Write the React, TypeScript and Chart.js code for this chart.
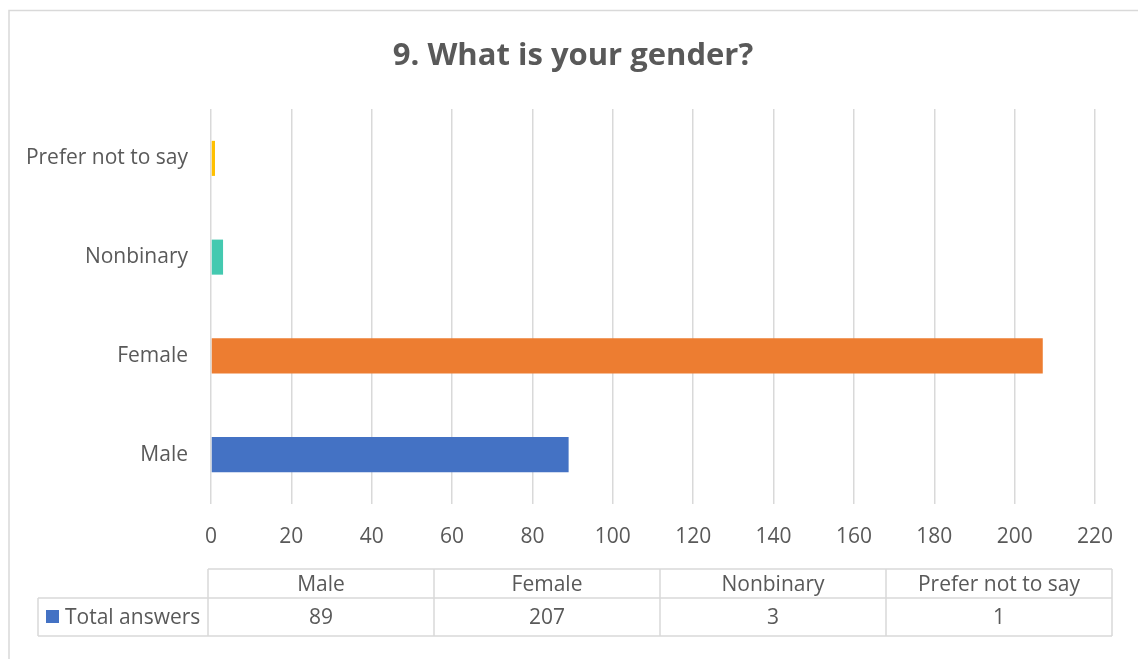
import React, { useEffect, useRef } from "react";
import { Chart, registerables } from "chart.js";

Chart.register(...registerables);

const chartTitle = "9. What is your gender?";
const categories = ["Male", "Female", "Nonbinary", "Prefer not to say"];
const seriesName = "Total answers";
const totalAnswers = [89, 207, 3, 1];
const barColors = ["#4472C4", "#ED7D31", "#44C9B0", "#FFC000"];
const xMin = 0;
const xMax = 220;
const xStep = 20;

const FONT = "'Open Sans', 'Noto Sans', sans-serif";
const TEXT = "#595959";
const LINE = "#D9D9D9";

const decorPlugin = {
  id: "decor",
  afterDraw(chart: any) {
    const ctx = chart.ctx as CanvasRenderingContext2D;
    const area = chart.chartArea;
    ctx.save();
    // outer chart border (cropped at right/bottom)
    ctx.strokeStyle = LINE;
    ctx.lineWidth = 1.5;
    ctx.strokeRect(9, 10.5, 1400, 900);

    // title
    ctx.fillStyle = TEXT;
    ctx.font = `bold 31px ${FONT}`;
    ctx.textAlign = "center";
    ctx.textBaseline = "middle";
    ctx.fillText(chartTitle, 573, 56);

    // data table
    const tLeft = area.left - 3;
    const tRight = 1112;
    const colW = (tRight - tLeft) / categories.length;
    const r1Top = 569;
    const r1Bot = 598;
    const r2Bot = 636;
    const legLeft = 38;

    ctx.strokeStyle = LINE;
    ctx.lineWidth = 1.5;
    ctx.beginPath();
    ctx.moveTo(tLeft, r1Top);
    ctx.lineTo(tRight, r1Top);
    ctx.moveTo(legLeft, r1Bot);
    ctx.lineTo(tRight, r1Bot);
    ctx.moveTo(legLeft, r2Bot);
    ctx.lineTo(tRight, r2Bot);
    ctx.moveTo(legLeft, r1Bot);
    ctx.lineTo(legLeft, r2Bot);
    for (let i = 0; i <= categories.length; i++) {
      const x = tLeft + colW * i;
      ctx.moveTo(x, r1Top);
      ctx.lineTo(x, r2Bot);
    }
    ctx.stroke();

    ctx.fillStyle = TEXT;
    ctx.font = `21px ${FONT}`;
    ctx.textAlign = "center";
    ctx.textBaseline = "middle";
    categories.forEach((c, i) => {
      const cx = tLeft + colW * (i + 0.5);
      ctx.fillText(c, cx, (r1Top + r1Bot) / 2 + 1.5);
      ctx.fillText(String(totalAnswers[i]), cx, (r1Bot + r2Bot) / 2 + 1.5);
    });

    // legend key
    ctx.fillStyle = barColors[0];
    ctx.fillRect(46, 610, 13, 13);
    ctx.fillStyle = TEXT;
    ctx.textAlign = "left";
    ctx.fillText(seriesName, 65, (r1Bot + r2Bot) / 2 + 1.5);
    ctx.restore();
  },
};

export default function App() {
  const canvasRef = useRef<HTMLCanvasElement | null>(null);

  useEffect(() => {
    document.body.style.margin = "0";
    const canvas = canvasRef.current;
    if (!canvas) return;
    const chart = new Chart(canvas, {
      type: "bar",
      data: {
        labels: categories,
        datasets: [
          {
            label: seriesName,
            data: totalAnswers,
            backgroundColor: barColors,
            borderWidth: 0,
            barPercentage: 0.355,
            categoryPercentage: 1,
          },
        ],
      },
      options: {
        indexAxis: "y",
        responsive: false,
        animation: false,
        layout: { padding: { left: 0, right: 43, top: 109, bottom: 0 } },
        plugins: {
          legend: { display: false },
          title: { display: false },
          tooltip: { enabled: false },
        },
        scales: {
          x: {
            type: "linear",
            min: xMin,
            max: xMax,
            ticks: {
              stepSize: xStep,
              padding: 20,
              color: TEXT,
              font: { family: FONT, size: 21 },
            },
            grid: { color: LINE, lineWidth: 1.5, drawTicks: false },
            border: { display: false },
            afterFit(scale: any) {
              scale.height = 659 - 504;
            },
          },
          y: {
            type: "category",
            reverse: true,
            ticks: {
              padding: 23,
              color: TEXT,
              font: { family: FONT, size: 21 },
            },
            grid: { display: false, drawTicks: false },
            border: { display: false },
            afterFit(scale: any) {
              scale.width = 211;
            },
          },
        },
      },
      plugins: [decorPlugin],
    });
    return () => chart.destroy();
  }, []);

  return (
    <div style={{ width: 1138, height: 659, background: "#fff" }}>
      <canvas ref={canvasRef} width={1138} height={659} style={{ display: "block" }} />
    </div>
  );
}
